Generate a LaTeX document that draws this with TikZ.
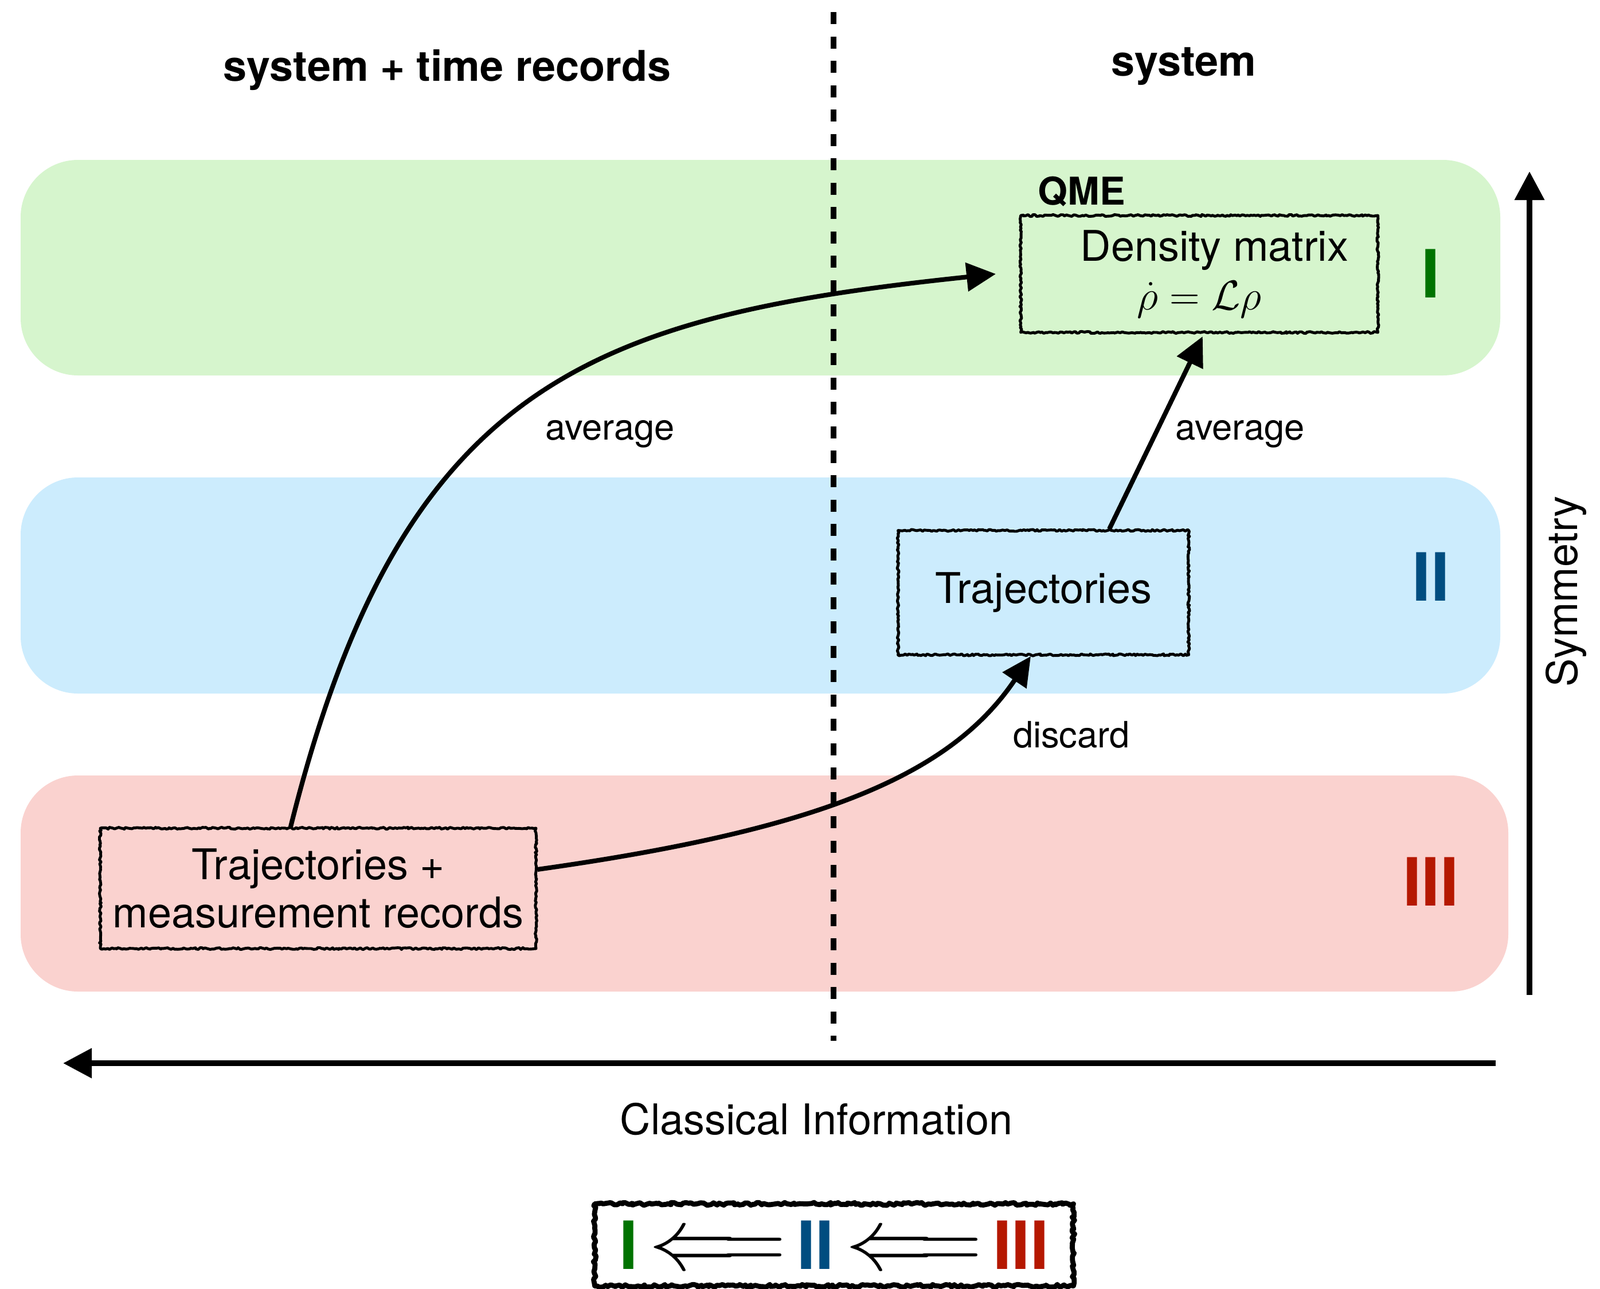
\documentclass[tikz,border=0pt]{standalone}
\usepackage{amsmath}
\usepackage[no-math]{fontspec}
\setmainfont{TeX Gyre Heros}
\usepackage{tikz}
\usetikzlibrary{positioning,arrows.meta,decorations.pathmorphing}
\usepackage{xcolor}

\definecolor{bandgreen}{RGB}{214,245,205}
\definecolor{bandblue}{RGB}{204,236,253}
\definecolor{bandred}{RGB}{250,210,207}
\definecolor{levI}{RGB}{0,115,0}
\definecolor{levII}{RGB}{0,77,128}
\definecolor{levIII}{RGB}{181,24,0}

\tikzset{
	band/.style={rounded corners=1cm},
	sketchbox/.style={draw, line width=1.4pt, line join=round, decorate, decoration={random steps, segment length=0.9pt, amplitude=0.45pt}, inner sep=0pt, align=center, font=\fontsize{21}{24}\selectfont},
	arr/.style={line width=2.3pt, -{Triangle[length=0.51cm,width=0.49cm]}},
	axis/.style={line width=2.85pt, -{Triangle[length=0.5cm,width=0.5cm]}},
	lbl/.style={font=\fontsize{18}{20}\selectfont},
	axislbl/.style={font=\fontsize{21}{24}\selectfont},
	title/.style={font=\fontsize{21}{24}\bfseries\selectfont},
	level/.style={font=\fontsize{33}{33}\bfseries\selectfont},
}
\newcommand{\implby}{\scalebox{1.75}{$\Longleftarrow$}}

\begin{document}
\begin{tikzpicture}
\fill[white] (0,0) rectangle (27.91,-22.48);
\useasboundingbox (0,0) rectangle (27.91,-22.48);

% the three levels
\fill[bandgreen, band] (0.36,-2.79) rectangle (26.17,-6.55);
\fill[bandblue, band] (0.36,-8.33) rectangle (26.17,-12.10);
\fill[bandred, band] (0.36,-13.53) rectangle (26.31,-17.30);

% divider
\coordinate (dtop) at (14.54,-0.21);
\coordinate (dbot) at (14.54,-18.16);
\draw[line width=3.1pt, dash pattern=on 6pt off 6.1pt] (dtop) -- (dbot);

\node[title] (sysrec) at (7.80,-1.22) {system + time records};
\node[title] (sys) at (20.65,-1.16) {system};

\node[sketchbox, minimum width=6.23cm, minimum height=2.04cm] (dm) at (20.92,-4.78) {\hspace*{0.53cm}Density matrix\\$\dot{\rho}=\mathcal{L}\rho$};
\node[anchor=south west, inner sep=0pt, font=\fontsize{19}{19}\bfseries\selectfont] (qme) at ([xshift=0.32cm, yshift=0.12cm]dm.north west) {QME};
\node[sketchbox, minimum width=5.07cm, minimum height=2.17cm] (traj) at (18.20,-10.34) {Trajectories};
\node[sketchbox, minimum width=7.60cm, minimum height=2.10cm] (tmr) at (5.55,-15.50) {Trajectories +\\measurement records};

\node[level, text=levI] (one) at (24.96,-4.77) {I};
\node[level, text=levII] (two) at (24.96,-10.06) {II};
\node[level, text=levIII] (three) at (24.96,-15.38) {III};

% arrows between levels
\draw[arr] ([xshift=-0.48cm]tmr.north) .. controls +(76:8.0cm) and +(186:7.1cm) .. ([xshift=-0.41cm]dm.west);
\draw[arr] ([yshift=0.33cm]tmr.east) .. controls +(8:5cm) and +(236:2.5cm) .. ([xshift=-0.22cm]traj.south);
\draw[arr, shorten >=0.05cm] ([xshift=1.15cm]traj.north) -- ([xshift=0.08cm]dm.south);

\node[lbl] (avgl) at (10.64,-7.57) {average};
\node[lbl] (avgr) at (21.63,-7.57) {average};
\node[lbl] (disc) at (18.69,-12.82) {discard};

% axes
\coordinate (hstart) at (26.09,-18.55);
\coordinate (hend) at (1.10,-18.55);
\draw[axis] (hstart) -- (hend);
\node[axislbl] (info) at (14.24,-19.53) {Classical Information};
\coordinate (vstart) at (26.68,-17.36);
\coordinate (vend) at (26.68,-2.99);
\draw[axis] (vstart) -- (vend);
\node[axislbl, rotate=90] (symm) at (27.32,-10.32) {Symmetry};

% hierarchy
\node[draw, line width=2.5pt, line join=round, decorate, decoration={random steps, segment length=1.2pt, amplitude=0.7pt}, inner sep=0pt, minimum width=8.35cm, minimum height=1.43cm, level] (legend) at (14.55,-21.72)
	{\textcolor{levI}{I}\hspace{0.2cm}\implby\hspace{0.2cm}\textcolor{levII}{II}\hspace{0.2cm}\implby\hspace{0.2cm}\textcolor{levIII}{III}};
\end{tikzpicture}
\end{document}
